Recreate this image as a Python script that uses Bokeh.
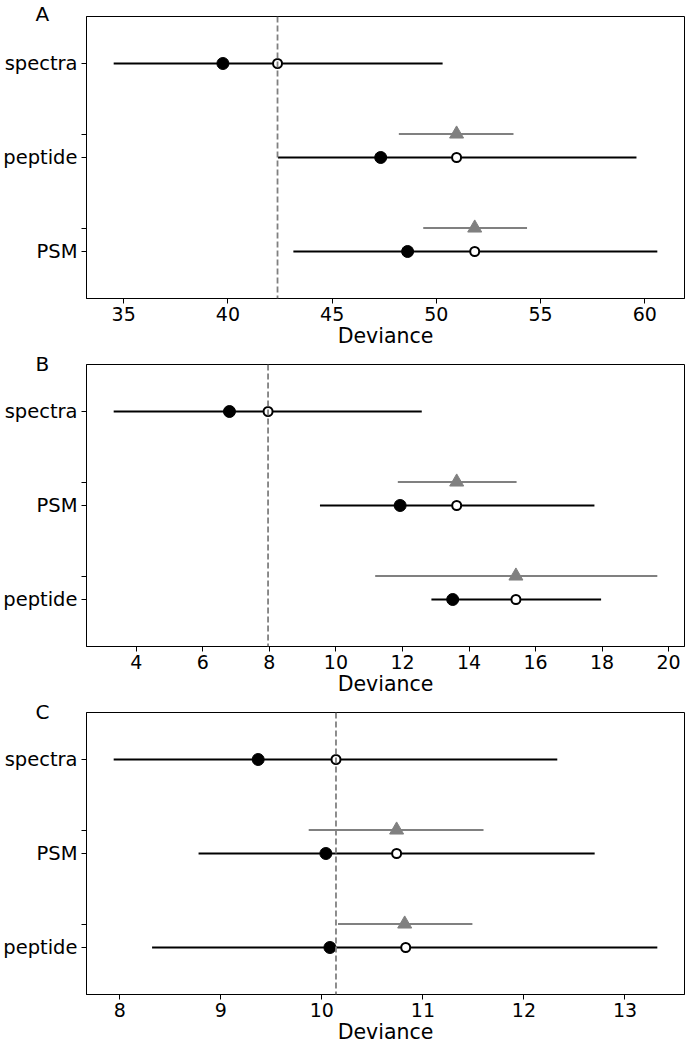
from bokeh.plotting import figure
from bokeh.models import Range1d, FixedTicker, SingleIntervalTicker, Span
from bokeh.layouts import column
from bokeh.embed import file_html
from bokeh.resources import INLINE

# ---------------- data ----------------
# Panel A
cats_a = ["spectra", "peptide", "PSM"]
point_a = [39.76, 47.33, 48.62]
lo_a = [34.52, 42.40, 43.14]
hi_a = [50.30, 59.60, 60.60]
open_a = [42.38, 50.97, 51.84]
tri_cats_a = ["peptide", "PSM"]
tri_a = [50.97, 51.84]
tri_lo_a = [48.20, 49.37]
tri_hi_a = [53.70, 54.35]
ref_a = 42.38

# Panel B
cats_b = ["spectra", "PSM", "peptide"]
point_b = [6.80, 11.93, 13.51]
lo_b = [3.32, 9.52, 12.87]
hi_b = [12.58, 17.77, 17.97]
open_b = [7.96, 13.63, 15.41]
tri_cats_b = ["PSM", "peptide"]
tri_b = [13.63, 15.41]
tri_lo_b = [11.86, 11.18]
tri_hi_b = [15.43, 19.66]
ref_b = 7.96

# Panel C
cats_c = ["spectra", "PSM", "peptide"]
point_c = [9.37, 10.04, 10.08]
lo_c = [7.94, 8.78, 8.32]
hi_c = [12.33, 12.70, 13.32]
open_c = [10.14, 10.74, 10.83]
tri_cats_c = ["PSM", "peptide"]
tri_c = [10.74, 10.82]
tri_lo_c = [9.87, 10.16]
tri_hi_c = [11.60, 11.49]
ref_c = 10.14

x_label = "Deviance"
panel_letters = ["A", "B", "C"]
tick_steps = [5, 2, 1]

FONT = "DejaVu Sans"
FS_Y = "19.5px"
FS_X = "19px"
FS_LAB = "20.5px"
FS_LETTER = "20px"
TRI_OFFSET = 0.25


def make_panel(letter, cats, point, lo, hi, opn, tri_cats, tri, tri_lo, tri_hi, ref, step,
               top_border, letter_standoff, frame_h):
    all_x = lo + hi + tri_lo + tri_hi
    xmin, xmax = min(all_x), max(all_x)
    pad = 0.05 * (xmax - xmin)
    n = len(cats)
    p = figure(width=685, frame_height=frame_h, output_backend="svg", toolbar_location=None,
               x_range=Range1d(xmin - pad, xmax + pad),
               y_range=Range1d(n - 0.5, -0.5),
               min_border_top=top_border, min_border_right=1, min_border_left=83,
               min_border_bottom=0)
    p.xgrid.visible = False
    p.ygrid.visible = False
    p.outline_line_color = "black"
    p.outline_line_width = 1
    p.background_fill_color = "white"
    p.border_fill_color = "white"

    ys = list(range(n))
    tri_ys = [cats.index(c) - TRI_OFFSET for c in tri_cats]

    # grey intervals and triangles
    p.segment(x0=tri_lo, y0=tri_ys, x1=tri_hi, y1=tri_ys, line_color="gray", line_width=2)
    p.scatter(x=tri, y=tri_ys, marker="triangle", size=14, fill_color="gray", line_color="gray")
    # black intervals, filled and open circles
    p.segment(x0=lo, y0=ys, x1=hi, y1=ys, line_color="black", line_width=2)
    p.scatter(x=point, y=ys, marker="circle", size=12, fill_color="black", line_color="black")
    p.scatter(x=opn, y=ys, marker="circle", size=9, fill_color="white", line_color="black", line_width=2)

    p.add_layout(Span(location=ref, dimension="height", line_color="gray",
                      line_dash="6 3", line_width=1.8))

    # x axis
    xa = p.xaxis[0]
    xa.ticker = SingleIntervalTicker(interval=step, num_minor_ticks=0)
    xa.axis_label = x_label
    xa.axis_label_text_font = FONT
    xa.axis_label_text_font_size = FS_LAB
    xa.axis_label_text_font_style = "normal"
    xa.axis_label_standoff = 0
    xa.major_label_text_font = FONT
    xa.major_label_text_font_size = FS_X
    xa.major_label_standoff = 3
    xa.major_tick_out = 5
    xa.major_tick_in = 0
    xa.minor_tick_out = 0
    xa.minor_tick_in = 0
    xa.axis_line_color = "black"
    xa.major_tick_line_color = "black"
    xa.major_label_text_color = "black"
    xa.axis_label_text_color = "black"

    # y axis: category labels at rows, blank ticks at the triangle rows
    ya = p.yaxis[0]
    ya.ticker = FixedTicker(ticks=ys, minor_ticks=tri_ys)
    ya.major_label_overrides = {i: c for i, c in enumerate(cats)}
    ya.major_label_text_font = FONT
    ya.major_label_text_font_size = FS_Y
    ya.major_label_text_color = "black"
    ya.major_label_standoff = 4
    ya.major_tick_out = 5
    ya.major_tick_in = 0
    ya.minor_tick_out = 5
    ya.minor_tick_in = 0
    ya.minor_tick_line_color = "black"
    ya.major_tick_line_color = "black"
    ya.axis_line_color = "black"

    # panel letter, placed left of the frame
    p.title.text = letter
    p.title.align = "left"
    p.title.offset = -51
    p.title.vertical_align = "bottom"
    p.title.standoff = letter_standoff
    p.title.text_font = FONT
    p.title.text_font_size = FS_LETTER
    p.title.text_font_style = "normal"
    p.title.text_color = "black"
    return p


pa = make_panel(panel_letters[0], cats_a, point_a, lo_a, hi_a, open_a, tri_cats_a, tri_a,
                tri_lo_a, tri_hi_a, ref_a, tick_steps[0], 16, -18, 282)
pb = make_panel(panel_letters[1], cats_b, point_b, lo_b, hi_b, open_b, tri_cats_b, tri_b,
                tri_lo_b, tri_hi_b, ref_b, tick_steps[1], 14, -22, 282)
pc = make_panel(panel_letters[2], cats_c, point_c, lo_c, hi_c, open_c, tri_cats_c, tri_c,
                tri_lo_c, tri_hi_c, ref_c, tick_steps[2], 14, -22, 282)

layout = column(pa, pb, pc, spacing=0)
open("out.html", "w").write(file_html(layout, INLINE))
